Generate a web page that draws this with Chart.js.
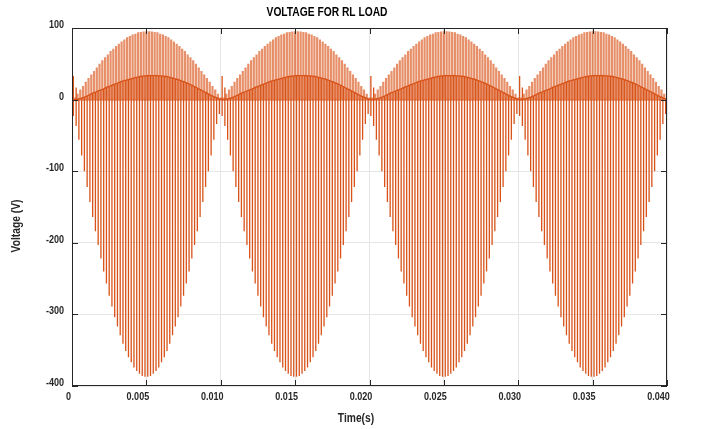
<!DOCTYPE html>
<html lang="en">
<head>
<meta charset="UTF-8">
<meta name="viewport" content="width=device-width, initial-scale=1.0">
<title>Voltage for RL load</title>
<script src="https://cdn.jsdelivr.net/npm/chart.js"></script>
<style>
  html, body { margin: 0; padding: 0; background: #fff; }
  #wrap { width: 701px; height: 429px; }
</style>
</head>
<body>
<div id="wrap"><canvas id="voltageChart"></canvas></div>
<script>
// Four supply half-cycles of 10 ms each. Every half-cycle carries the same
// train of switching pulses, so one set of readings is reused for all four.
const halfCycleStarts = [0, 0.010, 0.020, 0.030];
const halfCycleLength = 0.010;

// bottom of each pulse (V)
const negativePeaks = [
  -23, -37, -56, -78, -100, -122, -143, -164, -184, -203, -222, -240, -257, -274,
  -289, -304, -317, -329, -341, -351, -360, -367, -374, -379, -383, -386, -387,
  -387, -386, -383, -379, -374, -367, -360, -351, -341, -329, -317, -304, -289,
  -274, -257, -240, -222, -203, -184, -164, -143, -122, -100, -78, -56, -34, -20
];
// top of the light positive pulses (V)
const positivePeaks = [
  3, 8, 14, 19, 25, 30, 35, 40, 45, 50, 55, 59, 63, 68, 71, 75, 78, 81, 84, 87,
  89, 91, 92, 94, 94.5, 95, 95.5, 95.5, 95, 94.5, 94, 92, 91, 89, 87, 84, 81, 78,
  75, 71, 68, 63, 59, 55, 50, 45, 40, 35, 30, 25, 19, 14, 8, 3
];
// level the voltage rests at between pulses (darker inner curve)
const restLevel = [
  0, 0, 1, 2, 3.5, 5, 7, 9, 10.5, 12, 13.5, 15, 17, 18.5, 20, 21.5, 23, 24.5, 26,
  27, 28, 29, 30, 31, 32, 32.5, 33, 33.5, 33.5, 33.5, 33.5, 33, 33, 32.5, 32, 31,
  30, 29, 28, 26.5, 25, 23.5, 22, 20, 18, 16, 14, 12, 10, 8, 6, 4, 2.5, 1
];
// overshoot of the first two pulses after each zero crossing
const startOvershoot = [33, 17];

const timeTicks = [0, 0.005, 0.010, 0.015, 0.020, 0.025, 0.030, 0.035, 0.040];
const timeLabels = ['0', '0.005', '0.010', '0.015', '0.020', '0.025', '0.030', '0.035', '0.040'];
const voltTicks = [100, 0, -100, -200, -300, -400];
const voltLabels = ['100', '0', '-100', '-200', '-300', '-400'];

const pulseStep = halfCycleLength / negativePeaks.length;
const darkPoints = [];
const lightPoints = [];
halfCycleStarts.forEach(t0 => {
    negativePeaks.forEach((neg, k) => {
        const t = t0 + (k + 0.5) * pulseStep;
        const top = k < startOvershoot.length ? startOvershoot[k] : restLevel[k];
        darkPoints.push({x: t, y: restLevel[k]}, {x: t, y: top}, {x: t, y: neg}, {x: t, y: restLevel[k]});
        const tl = t + pulseStep / 2;
        lightPoints.push({x: tl, y: 0}, {x: tl, y: positivePeaks[k]}, {x: tl, y: 0});
    });
});

const FONT = '"Liberation Sans", Arial, sans-serif';
const INK = '#262626';
const SQUEEZE = 0.82;   // the original uses a narrow face

function narrowText(ctx, text, x, y, align) {
    ctx.save();
    ctx.translate(x, y);
    ctx.scale(SQUEEZE, 1);
    ctx.textAlign = align;
    ctx.fillText(text, 0, 0);
    ctx.restore();
}

const framePlugin = {
    id: 'frame',
    afterDatasetsDraw(chart) {
        const {ctx, chartArea: a, scales: {x, y}} = chart;
        ctx.save();
        ctx.strokeStyle = INK;
        ctx.lineWidth = 1;
        ctx.strokeRect(a.left + 0.5, a.top + 0.5, a.width - 1, a.height - 1);
        ctx.beginPath();
        timeTicks.forEach(v => {
            const px = Math.round(x.getPixelForValue(v)) + 0.5;
            ctx.moveTo(px, a.bottom); ctx.lineTo(px, a.bottom - 6);
            ctx.moveTo(px, a.top); ctx.lineTo(px, a.top + 6);
        });
        voltTicks.forEach(v => {
            const py = Math.round(y.getPixelForValue(v)) + 0.5;
            ctx.moveTo(a.left, py); ctx.lineTo(a.left + 6, py);
            ctx.moveTo(a.right, py); ctx.lineTo(a.right - 6, py);
        });
        ctx.stroke();

        // tick labels
        ctx.fillStyle = INK;
        ctx.font = 'bold 11px ' + FONT;
        ctx.textBaseline = 'middle';
        timeTicks.forEach((v, i) => {
            const shift = v === 0 ? -3.5 : -8.5;
            narrowText(ctx, timeLabels[i], x.getPixelForValue(v) + shift, a.bottom + 11, 'center');
        });
        voltTicks.forEach((v, i) => {
            narrowText(ctx, voltLabels[i], a.left - 8, y.getPixelForValue(v) - 3, 'right');
        });

        // titles
        ctx.font = 'bold 12.5px ' + FONT;
        ctx.fillStyle = '#000';
        narrowText(ctx, 'VOLTAGE FOR RL LOAD', 327, 13, 'center');
        ctx.fillStyle = INK;
        narrowText(ctx, 'Time(s)', 356, 419, 'center');
        ctx.translate(17, 226);
        ctx.rotate(-Math.PI / 2);
        narrowText(ctx, 'Voltage (V)', 0, 0, 'center');
        ctx.restore();
    }
};

const ctx = document.getElementById('voltageChart').getContext('2d');
new Chart(ctx, {
    type: 'scatter',
    data: {
        datasets: [{
            label: 'pulses',
            data: darkPoints,
            showLine: true,
            borderColor: '#D95319',
            borderWidth: 1.3,
            pointRadius: 0,
            order: 0
        }, {
            label: 'positive pulses',
            data: lightPoints,
            showLine: true,
            borderColor: 'rgba(217, 83, 25, 0.65)',
            borderWidth: 2.2,
            pointRadius: 0,
            order: 1
        }]
    },
    options: {
        responsive: true,
        maintainAspectRatio: false,
        animation: false,
        events: [],
        layout: { padding: { top: 28, right: 34, left: 0, bottom: 0 } },
        plugins: {
            legend: { display: false },
            tooltip: { enabled: false },
            title: { display: false }
        },
        scales: {
            x: {
                type: 'linear',
                min: 0,
                max: 0.040,
                afterFit: s => { s.height = 43; },
                afterBuildTicks: s => { s.ticks = timeTicks.map(v => ({value: v})); },
                grid: { color: '#e6e6e6', drawTicks: false },
                border: { display: false },
                ticks: { display: false }
            },
            y: {
                type: 'linear',
                min: -400,
                max: 100,
                afterFit: s => { s.width = 72; },
                afterBuildTicks: s => { s.ticks = voltTicks.map(v => ({value: v})); },
                grid: { color: '#e6e6e6', drawTicks: false },
                border: { display: false },
                ticks: { display: false }
            }
        }
    },
    plugins: [framePlugin]
});
</script>
</body>
</html>
